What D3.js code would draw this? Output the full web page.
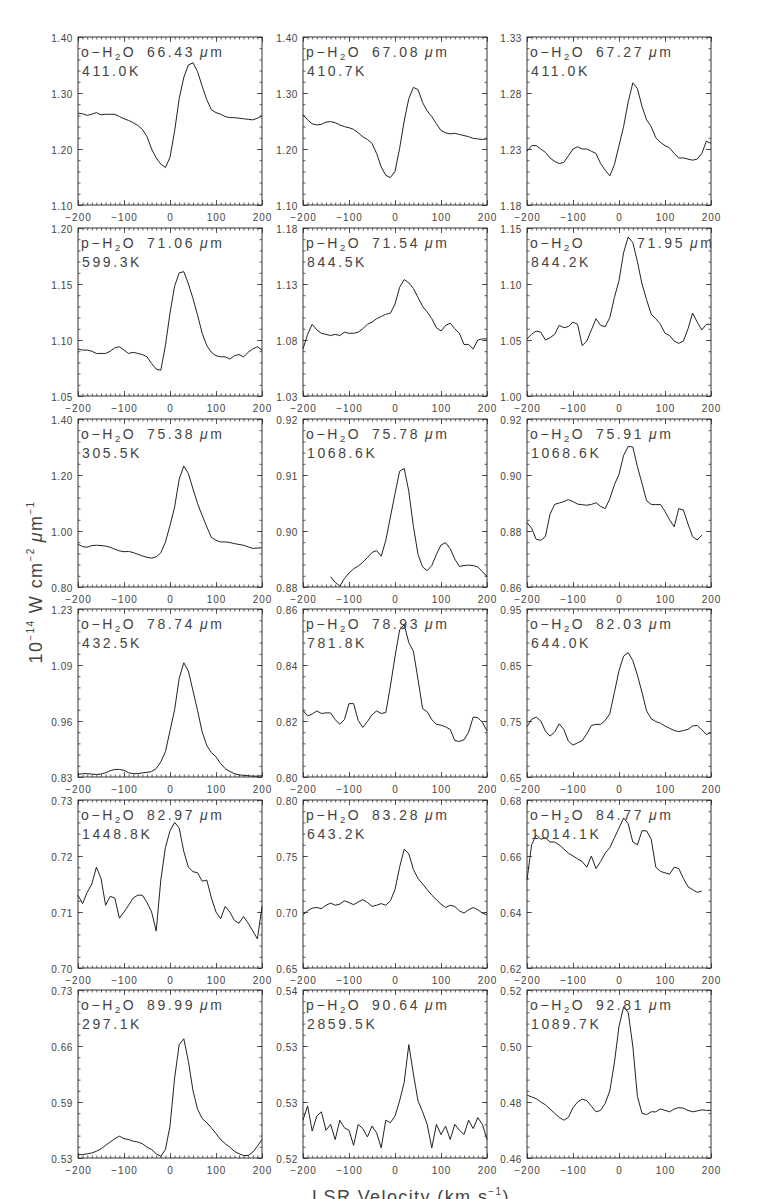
<html>
<head>
<meta charset="utf-8">
<script src="https://d3js.org/d3.v7.min.js"></script>
<style>
  body { margin: 0; background: #fff; }
  svg text { font-family: "Liberation Sans", Arial, sans-serif; fill: #444; }
</style>
</head>
<body>
<script>
    ////////////////// data //////////////////
    // velocity grid, km/s
    var velocity = [-200,-190,-180,-170,-160,-150,-140,-130,-120,-110,-100,-90,-80,-70,-60,-50,-40,-30,-20,-10,
                    0,10,20,30,40,50,60,70,80,90,100,110,120,130,140,150,160,170,180,190,200];
    var xTicks = [-200, -100, 0, 100, 200];

    var species = ["o","p","o", "p","p","o", "o","o","o", "o","p","o", "o","p","o", "o","p","o"];
    var wavelengths = ["66.43","67.08","67.27","71.06","71.54","71.95","75.38","75.78","75.91",
                       "78.74","78.93","82.03","82.97","83.28","84.77","89.99","90.64","92.81"];
    var temperatures = ["411.0K","410.7K","411.0K","599.3K","844.5K","844.2K","305.5K","1068.6K","1068.6K",
                        "432.5K","781.8K","644.0K","1448.8K","643.2K","1014.1K","297.1K","2859.5K","1089.7K"];

    var yRanges = [[1.10,1.40],[1.10,1.40],[1.18,1.33],
                   [1.05,1.20],[1.03,1.18],[1.00,1.15],
                   [0.80,1.40],[0.884,0.92],[0.86,0.92],
                   [0.83,1.23],[0.80,0.86],[0.65,0.95],
                   [0.70,0.73],[0.65,0.80],[0.62,0.68],
                   [0.53,0.73],[0.52,0.54],[0.46,0.52]];
    var yTickLabels = [["1.10","1.20","1.30","1.40"],["1.10","1.20","1.30","1.40"],["1.18","1.23","1.28","1.33"],
                       ["1.05","1.10","1.15","1.20"],["1.03","1.08","1.13","1.18"],["1.00","1.05","1.10","1.15"],
                       ["0.80","1.00","1.20","1.40"],["0.88","0.90","0.91","0.92"],["0.86","0.88","0.90","0.92"],
                       ["0.83","0.96","1.09","1.23"],["0.80","0.82","0.84","0.86"],["0.65","0.75","0.85","0.95"],
                       ["0.70","0.71","0.72","0.73"],["0.65","0.70","0.75","0.80"],["0.62","0.64","0.66","0.68"],
                       ["0.53","0.59","0.66","0.73"],["0.52","0.53","0.53","0.54"],["0.46","0.48","0.50","0.52"]];

    var flux6643 = [1.264,1.263,1.260,1.262,1.265,1.261,1.262,1.262,1.262,1.258,1.254,1.251,1.247,1.242,1.235,1.222,1.200,1.184,1.173,1.167,
                    1.185,1.232,1.290,1.328,1.350,1.354,1.338,1.312,1.288,1.270,1.265,1.262,1.258,1.256,1.256,1.255,1.254,1.253,1.252,1.255,1.259];
    var flux6708 = [1.261,1.252,1.245,1.243,1.244,1.248,1.249,1.247,1.243,1.240,1.238,1.235,1.229,1.222,1.217,1.210,1.192,1.168,1.153,1.149,
                    1.160,1.201,1.250,1.290,1.310,1.306,1.283,1.268,1.258,1.245,1.233,1.229,1.227,1.228,1.226,1.224,1.222,1.219,1.218,1.217,1.218];
    var flux6727 = [1.228,1.233,1.233,1.230,1.227,1.222,1.219,1.217,1.218,1.224,1.230,1.232,1.230,1.230,1.228,1.226,1.217,1.211,1.206,1.216,
                    1.233,1.250,1.272,1.289,1.284,1.268,1.256,1.250,1.240,1.236,1.233,1.231,1.226,1.222,1.222,1.221,1.220,1.221,1.226,1.237,1.235];
    var flux7106 = [1.092,1.091,1.091,1.090,1.088,1.088,1.088,1.090,1.093,1.094,1.091,1.088,1.089,1.088,1.087,1.085,1.079,1.074,1.073,1.095,
                    1.124,1.148,1.160,1.161,1.150,1.137,1.122,1.106,1.095,1.089,1.086,1.085,1.085,1.083,1.086,1.087,1.085,1.089,1.092,1.094,1.091];
    var flux7154 = [1.072,1.085,1.094,1.089,1.086,1.085,1.084,1.085,1.084,1.087,1.086,1.086,1.087,1.090,1.094,1.096,1.099,1.101,1.103,1.104,
                    1.112,1.127,1.134,1.131,1.126,1.118,1.110,1.105,1.099,1.091,1.088,1.093,1.095,1.090,1.086,1.076,1.076,1.072,1.080,1.081,1.081];
    var flux7195 = [1.051,1.055,1.058,1.057,1.050,1.052,1.055,1.063,1.061,1.062,1.066,1.064,1.045,1.049,1.059,1.069,1.063,1.062,1.070,1.088,
                    1.103,1.128,1.142,1.137,1.120,1.100,1.086,1.073,1.069,1.064,1.056,1.054,1.049,1.047,1.049,1.060,1.074,1.066,1.059,1.064,1.064];
    var flux7538 = [0.953,0.944,0.942,0.948,0.949,0.948,0.946,0.942,0.935,0.929,0.926,0.927,0.923,0.917,0.911,0.906,0.903,0.908,0.922,0.960,
                    1.020,1.085,1.185,1.232,1.205,1.150,1.098,1.055,1.015,0.977,0.967,0.961,0.961,0.959,0.955,0.952,0.949,0.943,0.938,0.939,0.940];
    var flux7578 = [null,null,null,null,null,null,0.8862,0.8850,0.8842,0.8858,0.8870,0.8879,0.8885,0.8893,0.8903,0.8914,0.8918,0.8906,0.8940,0.8990,
                    0.9040,0.9088,0.9094,0.9045,0.8970,0.8910,0.8883,0.8875,0.8886,0.8910,0.8930,0.8935,0.8922,0.8900,0.8884,0.8886,0.8887,0.8886,0.8883,0.8873,0.8862];
    var flux7591 = [0.8830,0.8810,0.8770,0.8767,0.8780,0.8860,0.8895,0.8900,0.8905,0.8912,0.8905,0.8896,0.8894,0.8892,0.8895,0.8901,0.8888,0.8880,0.8915,0.8965,
                    0.9003,0.9070,0.9102,0.9100,0.9030,0.8970,0.8908,0.8895,0.8894,0.8895,0.8870,0.8840,0.8815,0.8880,0.8875,0.8825,0.8780,0.8768,0.8785,null,null];
    var flux7874 = [0.836,0.838,0.838,0.837,0.836,0.837,0.840,0.845,0.848,0.848,0.846,0.840,0.838,0.838,0.840,0.841,0.843,0.850,0.866,0.890,
                    0.940,0.990,1.065,1.102,1.082,1.035,0.988,0.937,0.905,0.888,0.878,0.862,0.850,0.843,0.838,0.835,0.834,0.833,0.832,0.832,0.833];
    var flux7893 = [0.8238,0.8218,0.8225,0.8236,0.8227,0.8229,0.8229,0.8205,0.8188,0.8205,0.8262,0.8262,0.8202,0.8177,0.8198,0.8222,0.8236,0.8227,0.8230,0.8325,
                    0.8430,0.8525,0.8544,0.8480,0.8449,0.8349,0.8244,0.8233,0.8205,0.8188,0.8185,0.8179,0.8170,0.8130,0.8127,0.8133,0.8160,0.8214,0.8212,0.8195,0.8165];
    var flux8203 = [0.740,0.753,0.757,0.750,0.732,0.723,0.730,0.745,0.735,0.714,0.707,0.711,0.715,0.727,0.742,0.744,0.744,0.751,0.763,0.801,
                    0.840,0.866,0.872,0.858,0.832,0.801,0.768,0.754,0.749,0.746,0.741,0.737,0.733,0.731,0.733,0.735,0.741,0.742,0.734,0.726,0.729];
    var flux8297 = [0.7130,0.7115,0.7135,0.7150,0.7180,0.7160,0.7112,0.7128,0.7125,0.7089,0.7100,0.7112,0.7125,0.7130,0.7130,0.7117,0.7100,0.7066,0.7157,0.7215,
                    0.7245,0.7260,0.7250,0.7208,0.7180,0.7172,0.7170,0.7155,0.7157,0.7125,0.7100,0.7088,0.7110,0.7100,0.7085,0.7080,0.7092,0.7080,0.7066,0.7052,0.7110];
    var flux8328 = [0.6975,0.7010,0.7035,0.7040,0.7030,0.7060,0.7080,0.7060,0.7070,0.7100,0.7085,0.7065,0.7090,0.7110,0.7085,0.7050,0.7060,0.7075,0.7060,0.7100,
                    0.7200,0.7400,0.7560,0.7520,0.7380,0.7300,0.7250,0.7200,0.7150,0.7110,0.7070,0.7040,0.7060,0.7050,0.7010,0.6990,0.7020,0.7040,0.7020,0.6990,0.6975];
    var flux8477 = [0.6514,0.6640,0.6675,0.6660,0.6665,0.6650,0.6650,0.6640,0.6625,0.6610,0.6600,0.6590,0.6580,0.6560,0.6600,0.6555,0.6580,0.6610,0.6630,0.6665,
                    0.6700,0.6736,0.6715,0.6650,0.6640,0.6690,0.6690,0.6660,0.6560,0.6545,0.6540,0.6535,0.6560,0.6555,0.6520,0.6490,0.6480,0.6470,0.6475,null,null];
    var flux8999 = [0.534,0.534,0.535,0.536,0.538,0.541,0.545,0.549,0.553,0.556,0.553,0.552,0.550,0.549,0.547,0.543,0.540,0.535,0.532,0.540,
                    0.568,0.625,0.665,0.672,0.645,0.610,0.588,0.577,0.572,0.566,0.559,0.552,0.547,0.543,0.538,0.535,0.533,0.533,0.537,0.544,0.552];
    var flux9064 = [0.5245,0.5262,0.5232,0.5250,0.5255,0.5233,0.5240,0.5222,0.5245,0.5236,0.5233,0.5215,0.5240,0.5235,0.5225,0.5238,0.5230,0.5212,0.5245,0.5242,
                    0.5250,0.5268,0.5290,0.5335,0.5300,0.5268,0.5255,0.5240,0.5212,0.5240,0.5228,0.5238,0.5222,0.5240,0.5233,0.5228,0.5245,0.5235,0.5248,0.5240,0.5222];
    var flux9281 = [0.4825,0.4818,0.4812,0.4800,0.4790,0.4775,0.4760,0.4745,0.4735,0.4745,0.4780,0.4800,0.4810,0.4805,0.4785,0.4765,0.4770,0.4795,0.4840,0.4940,
                    0.5070,0.5140,0.5120,0.5000,0.4820,0.4760,0.4755,0.4765,0.4765,0.4775,0.4770,0.4765,0.4775,0.4780,0.4778,0.4770,0.4765,0.4768,0.4772,0.4770,0.4770];

    var fluxes = [flux6643, flux6708, flux6727, flux7106, flux7154, flux7195,
                  flux7538, flux7578, flux7591, flux7874, flux7893, flux8203,
                  flux8297, flux8328, flux8477, flux8999, flux9064, flux9281];

    ////////////////// layout //////////////////
    var svgWidth = 763;
    var svgHeight = 1199;
    var colLeft = [78, 303, 527];
    var rowTop = [37, 228, 419, 609, 800, 990];
    var panelW = 184;
    var panelH = 168;
    var ink = "#333";
    var textInk = "#444";

    var svg = d3.select("body").append("svg")
        .attr("width", svgWidth)
        .attr("height", svgHeight);

    fluxes.forEach(function (flux, i) {
        var r = Math.floor(i / 3), c = i % 3;
        var g = svg.append("g")
            .attr("transform", "translate(" + colLeft[c] + "," + rowTop[r] + ")");

        var x = d3.scaleLinear().domain([-200, 200]).range([0, panelW]);
        var lo = yRanges[i][0], hi = yRanges[i][1];
        var y = d3.scaleLinear().domain([lo, hi]).range([panelH, 0]);

        var yMajor = [0, 1, 2, 3].map(function (k) { return lo + k * (hi - lo) / 3; });
        var yMinor = d3.range(16).map(function (k) { return lo + k * (hi - lo) / 15; });
        var xMinor = d3.range(-200, 201, 10);

        // minor ticks on all four sides, pointing in
        g.append("g").attr("transform", "translate(0," + panelH + ")")
            .call(d3.axisBottom(x).tickValues(xMinor).tickSize(-2.5).tickSizeOuter(0).tickFormat(""));
        g.append("g")
            .call(d3.axisTop(x).tickValues(xMinor).tickSize(-2.5).tickSizeOuter(0).tickFormat(""));
        g.append("g")
            .call(d3.axisLeft(y).tickValues(yMinor).tickSize(-2.5).tickSizeOuter(0).tickFormat(""));
        g.append("g").attr("transform", "translate(" + panelW + ",0)")
            .call(d3.axisRight(y).tickValues(yMinor).tickSize(-2.5).tickSizeOuter(0).tickFormat(""));

        // major ticks + labels
        var xb = g.append("g").attr("transform", "translate(0," + panelH + ")")
            .call(d3.axisBottom(x).tickValues(xTicks).tickSize(-5).tickSizeOuter(0).tickPadding(9)
                .tickFormat(d3.format("d")));
        g.append("g")
            .call(d3.axisTop(x).tickValues(xTicks).tickSize(-5).tickSizeOuter(0).tickFormat(""));
        var yl = g.append("g")
            .call(d3.axisLeft(y).tickValues(yMajor).tickSize(-5).tickSizeOuter(0).tickPadding(5)
                .tickFormat(function (d, k) { return yTickLabels[i][k]; }));
        g.append("g").attr("transform", "translate(" + panelW + ",0)")
            .call(d3.axisRight(y).tickValues(yMajor).tickSize(-5).tickSizeOuter(0).tickFormat(""));

        g.selectAll(".domain").remove();
        g.selectAll(".tick line").attr("stroke", ink).attr("stroke-width", 0.8);
        xb.selectAll("text").attr("font-size", 10).attr("letter-spacing", 1).attr("fill", textInk);
        yl.selectAll("text").attr("font-size", 10).attr("letter-spacing", 0.6).attr("fill", textInk)
            .attr("dy", "0.45em");

        // frame
        g.append("rect")
            .attr("width", panelW).attr("height", panelH)
            .attr("fill", "none").attr("stroke", ink).attr("stroke-width", 1);

        // spectrum
        var line = d3.line()
            .defined(function (d) { return d !== null; })
            .x(function (d, k) { return x(velocity[k]); })
            .y(function (d) { return y(d); });
        g.append("path")
            .datum(flux)
            .attr("d", line)
            .attr("fill", "none")
            .attr("stroke", "#222")
            .attr("stroke-width", 1);

        // transition label
        var t1 = g.append("text").attr("x", 3).attr("y", 20)
            .attr("font-size", 14).attr("letter-spacing", 2.6).attr("fill", textInk);
        t1.append("tspan").text(species[i] + "\u2212H");
        t1.append("tspan").attr("font-size", 9.5).attr("dy", 3).text("2");
        t1.append("tspan").attr("dy", -3).text("O");

        var waveX = (i === 5) ? 110 : 69;
        var t2 = g.append("text").attr("x", waveX).attr("y", 20)
            .attr("font-size", 14).attr("letter-spacing", 2.6).attr("fill", textInk);
        t2.append("tspan").text(wavelengths[i]);
        t2.append("tspan").attr("dx", 5).attr("font-style", "italic").text("\u03bc");
        t2.append("tspan").text("m");

        g.append("text").attr("x", 4).attr("y", 39)
            .attr("font-size", 14).attr("letter-spacing", 2.6).attr("fill", textInk)
            .text(temperatures[i]);
    });

    // y axis title
    var yt = svg.append("text")
        .attr("transform", "translate(42,582) rotate(-90)")
        .attr("text-anchor", "middle")
        .attr("font-size", 18).attr("letter-spacing", 1.4).attr("fill", textInk);
    yt.append("tspan").text("10");
    yt.append("tspan").attr("font-size", 10).attr("dy", -8).text("\u221214");
    yt.append("tspan").attr("dy", 8).text(" W cm");
    yt.append("tspan").attr("font-size", 10).attr("dy", -8).text("\u22122");
    yt.append("tspan").attr("dy", 8).attr("dx", 5).attr("font-style", "italic").text("\u03bc");
    yt.append("tspan").text("m");
    yt.append("tspan").attr("font-size", 10).attr("dy", -8).text("\u22121");

    // x axis title, cut by the bottom edge as in the figure
    var xt = svg.append("text")
        .attr("x", 411).attr("y", 1203)
        .attr("text-anchor", "middle")
        .attr("font-size", 18).attr("letter-spacing", 1.4).attr("fill", textInk);
    xt.append("tspan").text("LSR Velocity (km s");
    xt.append("tspan").attr("font-size", 10).attr("dy", -8).text("\u22121");
    xt.append("tspan").attr("dy", 8).text(")");
</script>
</body>
</html>
